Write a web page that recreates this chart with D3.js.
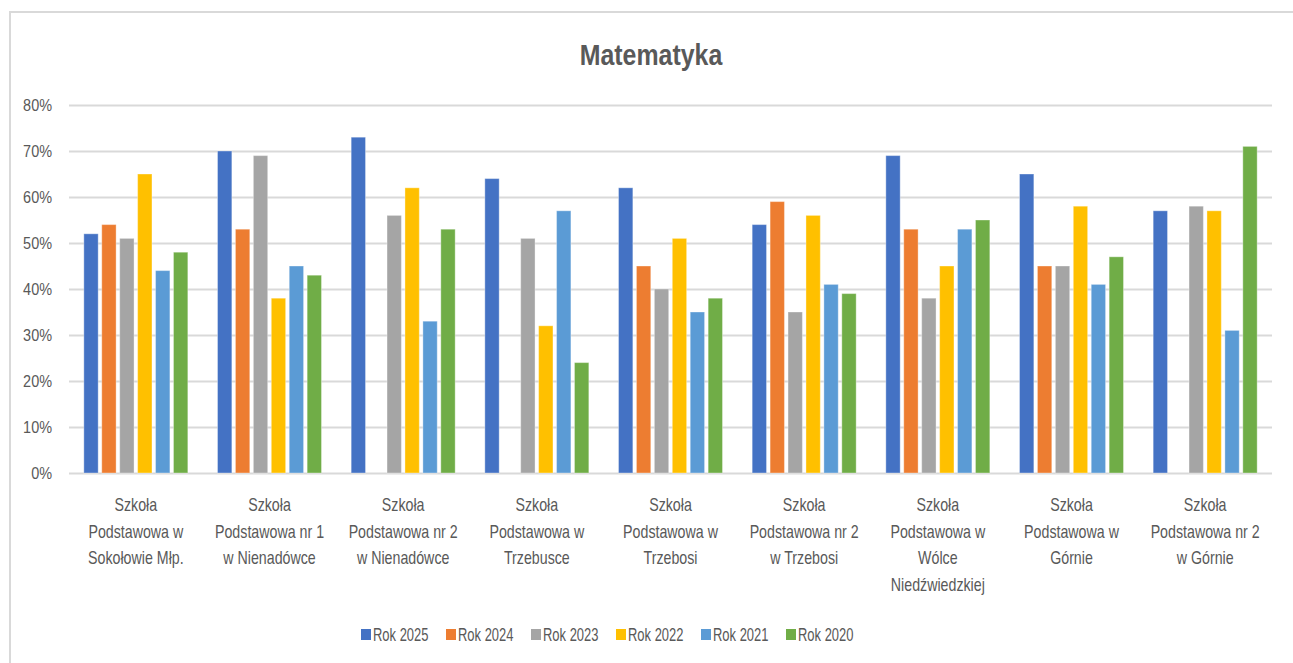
<!DOCTYPE html>
<html>
<head>
<meta charset="utf-8">
<script src="https://cdn.jsdelivr.net/npm/d3@7/dist/d3.min.js"></script>
<style>
  html, body { margin: 0; padding: 0; background: #fff; }
  svg { display: block; }
  text { font-family: "Liberation Sans", Arial, sans-serif; fill: #595959; }
</style>
</head>
<body>
<svg id="chart" width="1293" height="663"></svg>
<script>
const title = "Matematyka";
const categoryLines = [
  ["Szkoła", "Podstawowa w", "Sokołowie Młp."],
  ["Szkoła", "Podstawowa nr 1", "w Nienadówce"],
  ["Szkoła", "Podstawowa nr 2", "w Nienadówce"],
  ["Szkoła", "Podstawowa w", "Trzebusce"],
  ["Szkoła", "Podstawowa w", "Trzebosi"],
  ["Szkoła", "Podstawowa nr 2", "w Trzebosi"],
  ["Szkoła", "Podstawowa w", "Wólce", "Niedźwiedzkiej"],
  ["Szkoła", "Podstawowa w", "Górnie"],
  ["Szkoła", "Podstawowa nr 2", "w Górnie"]
];
const categories = categoryLines.map(l => l.join(" "));
const seriesNames = ["Rok 2025", "Rok 2024", "Rok 2023", "Rok 2022", "Rok 2021", "Rok 2020"];
const rok2025 = [0.52, 0.70, 0.73, 0.64, 0.62, 0.54, 0.69, 0.65, 0.57];
const rok2024 = [0.54, 0.53, null, null, 0.45, 0.59, 0.53, 0.45, null];
const rok2023 = [0.51, 0.69, 0.56, 0.51, 0.40, 0.35, 0.38, 0.45, 0.58];
const rok2022 = [0.65, 0.38, 0.62, 0.32, 0.51, 0.56, 0.45, 0.58, 0.57];
const rok2021 = [0.44, 0.45, 0.33, 0.57, 0.35, 0.41, 0.53, 0.41, 0.31];
const rok2020 = [0.48, 0.43, 0.53, 0.24, 0.38, 0.39, 0.55, 0.47, 0.71];
const seriesValues = [rok2025, rok2024, rok2023, rok2022, rok2021, rok2020];
const colors = ["#4472C4", "#ED7D31", "#A5A5A5", "#FFC000", "#5B9BD5", "#70AD47"];
const yTicks = [0, 0.1, 0.2, 0.3, 0.4, 0.5, 0.6, 0.7, 0.8];

const SX = 0.83; // horizontal condensing to mimic the narrow original font
const svg = d3.select("#chart");
const plot = { left: 69, right: 1272, top: 105, bottom: 473 };

// chart frame (top and left edges visible)
svg.append("path")
  .attr("d", "M10,663 V12 H1293")
  .attr("fill", "none").attr("stroke", "#d9d9d9").attr("stroke-width", 2);

// title
svg.append("g").attr("transform", `translate(651,65) scale(${SX},1)`)
  .append("text")
  .attr("text-anchor", "middle")
  .style("font-size", "30px").style("font-weight", "bold")
  .text(title);

const y = d3.scaleLinear().domain([0, 0.8]).range([plot.bottom, plot.top]);
const x0 = d3.scaleBand().domain(categories).range([plot.left, plot.right])
  .paddingInner(0.222).paddingOuter(0.111);
const x1 = d3.scaleBand().domain(seriesNames).range([0, x0.bandwidth()])
  .paddingInner(0.2).paddingOuter(0);

// gridlines + y labels
const yAxis = d3.axisLeft(y).tickValues(yTicks).tickFormat(d3.format(".0%"))
  .tickSize(-(plot.right - plot.left)).tickPadding(17);
const gy = svg.append("g").attr("transform", `translate(${plot.left},0)`).call(yAxis);
gy.select(".domain").remove();
gy.selectAll(".tick line").attr("stroke", "#d9d9d9").attr("stroke-width", 2);
gy.selectAll(".tick text")
  .style("font-size", "17px").attr("fill", "#595959")
  .style("font-family", "'Liberation Sans', Arial, sans-serif")
  .attr("x", -17 / 0.85)
  .attr("transform", `scale(0.85,1)`);

// bars
const groups = svg.append("g").selectAll("g")
  .data(categories).join("g")
  .attr("transform", d => `translate(${x0(d)},0)`);
groups.selectAll("rect")
  .data((c, ci) => seriesNames.map((s, si) => ({ s, si, v: seriesValues[si][ci] })).filter(d => d.v != null))
  .join("rect")
  .attr("x", d => x1(d.s))
  .attr("width", x1.bandwidth())
  .attr("y", d => y(d.v))
  .attr("height", d => y(0) - y(d.v))
  .attr("fill", d => colors[d.si])
  .attr("stroke", "#ffffff").attr("stroke-opacity", 0.35).attr("stroke-width", 1);

// category labels
const xl = svg.append("g");
categoryLines.forEach((lines, i) => {
  const cx = x0(categories[i]) + x0.bandwidth() / 2;
  const t = xl.append("g").attr("transform", `translate(${cx},0) scale(0.79,1)`)
    .append("text").attr("text-anchor", "middle").style("font-size", "18px");
  lines.forEach((ln, j) => {
    t.append("tspan").attr("x", 0).attr("y", 511 + j * 26.7).text(ln);
  });
});

// legend
const lg = svg.append("g");
seriesNames.forEach((s, i) => {
  const lx = 361 + i * 85;
  lg.append("rect").attr("x", lx).attr("y", 629).attr("width", 10).attr("height", 11).attr("fill", colors[i]);
  lg.append("g").attr("transform", `translate(${lx + 12},641) scale(0.72,1)`)
    .append("text").style("font-size", "18px").text(s);
});
</script>
</body>
</html>
